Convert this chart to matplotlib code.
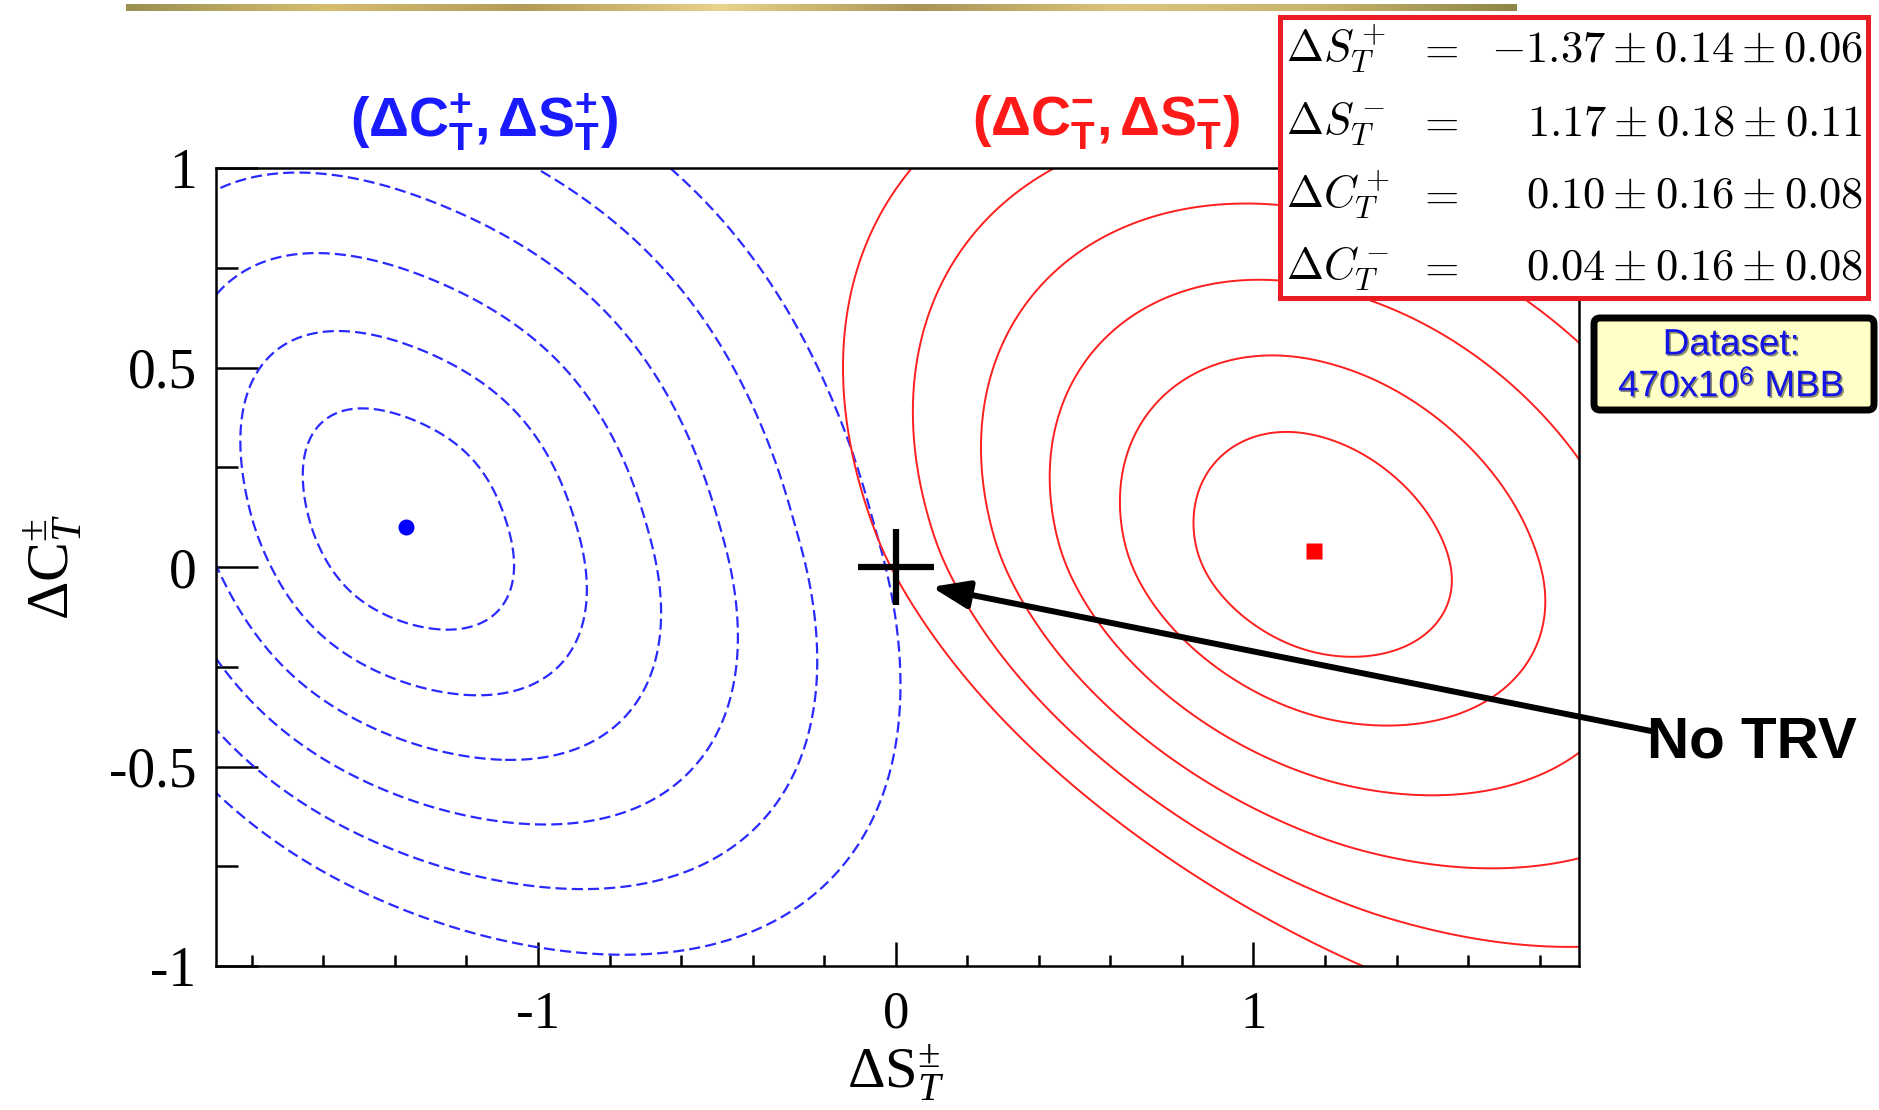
import numpy as np
import matplotlib
matplotlib.use("Agg")
import matplotlib.pyplot as plt
from matplotlib.patches import Rectangle, FancyBboxPatch
from matplotlib.colors import LinearSegmentedColormap
from matplotlib.ticker import MultipleLocator, FixedLocator
import matplotlib.patheffects as pe

W, H = 1879, 1110
plt.rcParams.update({
    'font.family': ['Liberation Serif', 'DejaVu Serif'],
    'mathtext.fontset': 'custom',
    'mathtext.rm': 'Liberation Serif',
    'mathtext.it': 'Liberation Serif:italic',
    'mathtext.bf': 'Liberation Sans:bold',
    'mathtext.sf': 'Liberation Sans',
})

# ---------------- data ----------------
param_labels = [r'$\Delta S_T^+$', r'$\Delta S_T^-$', r'$\Delta C_T^+$', r'$\Delta C_T^-$']
central = [-1.37, 1.17, 0.10, 0.04]
stat_err = [0.14, 0.18, 0.16, 0.16]
syst_err = [0.06, 0.11, 0.08, 0.08]

blue_center = [central[0], central[2]]   # (dS+, dC+)
red_center = [central[1], central[3]]    # (dS-, dC-)

# likelihood shape:
# widths (left, right, down, up) and their growth with the level;
# tilt per quadrant (UL, UR, LL, LR) and its growth; outward skew of outer contours
blue_sigma = [0.272, 0.277, 0.242, 0.272]
blue_sigma_growth = [0.0, 0.0, 0.0, 0.004]
red_sigma = [0.339, 0.358, 0.256, 0.288]
red_sigma_growth = [0.0, 0.0, 0.0, 0.0]
blue_tilt0 = [0.42, 0.25, 0.25, 0.36]
blue_tilt_growth = [0.0, 0.0, 0.0, 0.0]
red_tilt0 = [0.24, 0.30, 0.25, 0.25]
red_tilt_growth = [0.006, 0.0, 0.0115, 0.012]
blue_skew, red_skew = 0.009, 0.012
contour_radii = [1.0, 1.64, 2.27, 2.90, 3.53, 4.17]

no_trv_point = [0.0, 0.0]
arrow_tip = [0.10, -0.05]

xticks = [-1, 0, 1]
xtick_labels = ['-1', '0', '1']
yticks = [-1, -0.5, 0, 0.5, 1]
ytick_labels = ['-1', '-0.5', '0', '0.5', '1']
xlim = (-1.9, 1.91)
ylim = (-1, 1)

# quadrant directions UL, UR, LL, LR -> smooth angular interpolation of the tilt
QUAD_ANGLES = np.radians([135.0, 45.0, 225.0, 315.0])
BASIS = np.stack([np.ones(4), np.cos(QUAD_ANGLES), np.sin(QUAD_ANGLES),
                  np.sin(2 * QUAD_ANGLES)], axis=1)


def smooth_tilt(theta, quad_values):
    c = np.linalg.solve(BASIS, np.asarray(quad_values, float))
    return c[0] + c[1] * np.cos(theta) + c[2] * np.sin(theta) + c[3] * np.sin(2 * theta)


def chi2_surface(X, Y, center, sigma, sigma_growth, tilt0, tilt_growth, skew, n_iter=120):
    dy = Y - center[1]
    Q = np.zeros_like(X)
    for _ in range(n_iter):
        Qc = np.minimum(Q, 30.0)
        sxl, sxr, syd, syu = [s * (1 + g * Qc) for s, g in zip(sigma, sigma_growth)]
        sy = syd + (syu - syd) / (1 + np.exp(-dy / 0.04))
        v = dy / sy
        dx = X - center[0] - skew * Qc
        sx = sxl + (sxr - sxl) / (1 + np.exp(-dx / 0.04))
        u = dx / sx
        theta = np.arctan2(v, u)
        b = smooth_tilt(theta, tilt0) + smooth_tilt(theta, tilt_growth) * Qc
        b = np.clip(b, -0.75, 0.75)
        Qn = u * u + 2 * b * u * v + v * v
        Q = 0.5 * Q + 0.5 * Qn
    return Q


fig = plt.figure(figsize=(W / 100, H / 100), dpi=100)

# gold bar on top
bar_ax = fig.add_axes([126 / W, 1 - 11 / H, (1517 - 126) / W, 7 / H])
bar_ax.axis('off')
gold = LinearSegmentedColormap.from_list('gold', ['#9a9050', '#d6bd70', '#b39a58', '#e9d28a',
                                                  '#a99455', '#dcc47c', '#c9b46c', '#8e8648'])
bar_ax.imshow(np.linspace(0, 1, 256)[None, :], aspect='auto', cmap=gold)

ax = fig.add_axes([216 / W, 1 - 966 / H, (1579 - 216) / W, (966 - 168) / H])

X, Y = np.meshgrid(np.linspace(-2.0, 2.0, 900), np.linspace(-1.1, 1.1, 600))
levels = [r ** 2 for r in contour_radii]
Qb = chi2_surface(X, Y, blue_center, blue_sigma, blue_sigma_growth, blue_tilt0,
                  blue_tilt_growth, blue_skew)
Qr = chi2_surface(X, Y, red_center, red_sigma, red_sigma_growth, red_tilt0,
                  red_tilt_growth, red_skew)
ax.contour(X, Y, Qb, levels=levels, colors='#2a2aff', linewidths=1.6,
           linestyles=[(0, (5, 2.3))])
ax.contour(X, Y, Qr, levels=levels, colors='#ff1f1f', linewidths=1.4, linestyles='solid')

ax.plot([blue_center[0]], [blue_center[1]], 'o', color='#0000ff', ms=11.5, mec='none')
ax.plot([red_center[0]], [red_center[1]], 's', color='#ff0000', ms=11, mec='none')
ax.plot([no_trv_point[0]], [no_trv_point[1]], marker='+', color='black', ms=55, mew=4.5)

ax.set_xlim(xlim)
ax.set_ylim(ylim)
ax.xaxis.set_major_locator(FixedLocator(xticks))
ax.set_xticklabels(xtick_labels)
ax.xaxis.set_minor_locator(MultipleLocator(0.2))
ax.yaxis.set_major_locator(FixedLocator(yticks))
ax.set_yticklabels(ytick_labels)
ax.yaxis.set_minor_locator(MultipleLocator(0.25))
ax.tick_params(axis='x', which='major', direction='in', length=17, width=1.8,
               labelsize=38, pad=18, top=False)
ax.tick_params(axis='x', which='minor', direction='in', length=8, width=1.8, top=False)
ax.tick_params(axis='y', which='major', direction='in', length=30, width=1.8,
               labelsize=40, pad=14, right=False)
ax.tick_params(axis='y', which='minor', direction='in', length=16, width=1.8, right=False)
for s in ax.spines.values():
    s.set_linewidth(1.8)

ax.set_xlabel(r'$\Delta\mathrm{S}^{\pm}_{T}$', fontsize=42, va='center')
ax.xaxis.set_label_coords(0.499, -0.133)
ax.set_ylabel(r'$\Delta\mathrm{C}^{\pm}_{T}$', fontsize=43, va='center')
ax.yaxis.set_label_coords(-0.12, 0.5)

# top labels
fig.text(484 / W, 1 - 123 / H, r'$\mathbf{(\Delta C^{+}_{T},\Delta S^{+}_{T})}$',
         color='#1a1aff', fontsize=40, ha='center', va='center')
fig.text(1106 / W, 1 - 123 / H, r'$\mathbf{(\Delta C^{-}_{T},\Delta S^{-}_{T})}$',
         color='#ff1a1a', fontsize=40, ha='center', va='center')

# results box
fig.add_artist(Rectangle((1280 / 100, (H - 298) / 100), (1868 - 1280) / 100, (298 - 17) / 100,
                         transform=fig.dpi_scale_trans, fc='white', ec='#ea1c24', lw=3.6))
row_baselines = [62, 135, 208, 280]
for lab, c, s, sy, yb in zip(param_labels, central, stat_err, syst_err, row_baselines):
    fig.text(1286 / W, 1 - yb / H, lab, fontsize=32, math_fontfamily='cm',
             ha='left', va='baseline')
    fig.text(1438 / W, 1 - yb / H, r'$=$', fontsize=32, math_fontfamily='cm',
             ha='center', va='baseline')
    fig.text(1863 / W, 1 - yb / H, rf'${c:.2f} \pm {s:.2f} \pm {sy:.2f}$', fontsize=32,
             math_fontfamily='cm', ha='right', va='baseline')

# dataset box
fig.add_artist(FancyBboxPatch((1594 / 100, (H - 410) / 100), (1874 - 1594) / 100, (410 - 318) / 100,
                              boxstyle='round,pad=0,rounding_size=0.06',
                              transform=fig.dpi_scale_trans, fc='#ffffc8', ec='black', lw=5))
shadow = [pe.SimplePatchShadow(offset=(1.2, -1.2), shadow_rgbFace='black', alpha=0.45), pe.Normal()]
fig.text(1731 / W, 1 - 345 / H, 'Dataset:', fontfamily='Liberation Sans', fontsize=26.5,
         color='#1414e6', ha='center', va='center', path_effects=shadow)
fig.text(1731 / W, 1 - 387 / H, r'470x10$^{\mathsf{6}}$ MBB', fontfamily='Liberation Sans',
         fontsize=26.5, color='#1414e6', ha='center', va='center', path_effects=shadow)

# No TRV annotation
fig.text(1752 / W, 1 - 742 / H, 'No TRV', fontfamily='Liberation Sans', fontweight='bold',
         fontsize=42, ha='center', va='center')
ax.annotate('', xy=arrow_tip, xycoords='data', xytext=(1651 / W, 1 - 731 / H),
            textcoords='figure fraction', annotation_clip=False,
            arrowprops=dict(arrowstyle='-|>,head_length=1.6,head_width=0.6', mutation_scale=14,
                            lw=4.3, color='black', shrinkA=0, shrinkB=0))

fig.savefig('out.png', dpi=100)
